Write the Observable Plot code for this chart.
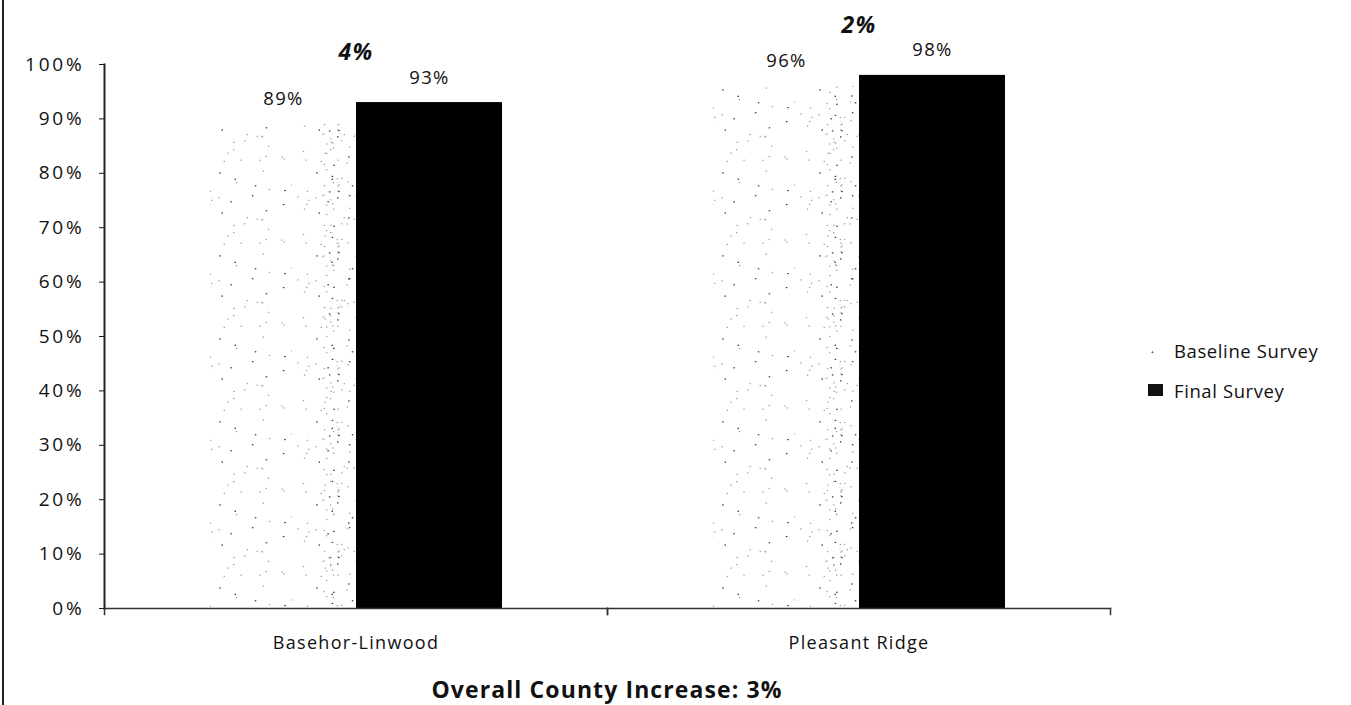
<!DOCTYPE html>
<html>
<head>
<meta charset="utf-8">
<script src="https://cdn.jsdelivr.net/npm/d3@7"></script>
<script src="https://cdn.jsdelivr.net/npm/@observablehq/plot@0.6"></script>
<style>
  html, body { margin: 0; padding: 0; background: #fff; }
  #wrap { position: relative; width: 1351px; height: 705px; overflow: hidden; }
  #wrap .border { position: absolute; left: 2px; top: 0; width: 2px; height: 705px; background: #222; }
  #legend { position: absolute; left: 1148px; top: 330px; font-family: "Open Sans", Lato, sans-serif; font-size: 18.5px; letter-spacing: 0.6px; color: #111; }
  #legend .row { display: flex; align-items: center; height: 40px; }
  #legend .sw { width: 15px; height: 12px; margin-right: 11px; }
  #title { position: absolute; left: 0; width: 1214px; top: 673px; text-align: center; font-family: "Open Sans", Lato, sans-serif; font-weight: bold; font-size: 23px; letter-spacing: 1.1px; color: #111; }
  svg text { letter-spacing: 1.3px; }
  svg g.ytick text { font-size: 19px; letter-spacing: 2.8px; }
</style>
</head>
<body>
<div id="wrap">
  <div class="border"></div>
  <div id="chart"></div>
  <div id="legend"></div>
  <div id="title"></div>
</div>
<script>
const groups = ["Basehor-Linwood", "Pleasant Ridge"];
const series = ["Baseline Survey", "Final Survey"];
const baseline = [0.89, 0.96];
const finalSurvey = [0.93, 0.98];
const increase = ["4%", "2%"];
const yTicks = [0, 0.1, 0.2, 0.3, 0.4, 0.5, 0.6, 0.7, 0.8, 0.9, 1.0];
const overallText = "Overall County Increase: 3%";

const rows = [];
groups.forEach((g, i) => {
  rows.push({group: g, series: series[0], value: baseline[i]});
  rows.push({group: g, series: series[1], value: finalSurvey[i]});
});
const diffs = groups.map((g, i) => ({group: g, top: Math.max(baseline[i], finalSurvey[i]), label: increase[i]}));

const H = 705, MT = 64, MB = 97;
const plotH = H - MT - MB;

const chart = Plot.plot({
  width: 1351,
  height: H,
  marginTop: MT,
  marginBottom: MB,
  marginLeft: 103,
  marginRight: 241,
  style: {fontFamily: "'Open Sans', Lato, sans-serif", fontSize: "18px", color: "#111", background: "#fff"},
  fx: {domain: groups, padding: 0, label: null, tickSize: 0, tickPadding: 28},
  x: {domain: series, paddingInner: 0, paddingOuter: 0.72, axis: null},
  y: {domain: [0, 1], ticks: yTicks, tickFormat: d3.format(".0%"), tickSize: 5, tickPadding: 15, label: null},
  color: {domain: series, range: ["url(#stipple)", "#000"]},
  marks: [
    Plot.barY(rows, {fx: "group", x: "series", y: "value", fill: "series"}),
    Plot.barY(rows.filter(d => d.series === series[0]), {fx: "group", x: "series", y: "value", fill: "url(#stippleDense)", insetLeft: 112}),
    Plot.frame({anchor: "bottom", stroke: "#333", strokeWidth: 1.5}),
    Plot.frame({anchor: "left", stroke: "#222", strokeWidth: 2, facetAnchor: "left"}),
    Plot.frame({anchor: "left", stroke: "#333", strokeWidth: 1.5, insetTop: plotH, insetBottom: -6}),
    Plot.frame({anchor: "right", stroke: "#333", strokeWidth: 1.5, insetTop: plotH, insetBottom: -6}),
    Plot.text(rows, {fx: "group", x: "series", y: "value", text: d => d3.format(".0%")(d.value), dy: -25, fontSize: 18.5}),
    Plot.text(diffs, {fx: "group", y: "top", text: "label", dy: -50, fontSize: 23, fontWeight: "bold", fontStyle: "italic"})
  ]
});

const svg = d3.select(chart.tagName.toLowerCase() === "svg" ? chart : chart.querySelector("svg"));
svg.selectAll("g[aria-label='y-axis tick label']").classed("ytick", true);

// stipple textures (scan-like dot noise) for the baseline bars
const defs = svg.insert("defs", ":first-child");
let seed = 7;
const rnd = () => (seed = (seed * 16807) % 2147483647) / 2147483647;
function addPattern(id, w, h, n) {
  const pat = defs.append("pattern").attr("id", id).attr("patternUnits", "userSpaceOnUse").attr("width", w).attr("height", h);
  for (let k = 0; k < n; k++) {
    const dark = rnd() < 0.3;
    pat.append("rect").attr("x", (rnd() * w).toFixed(1)).attr("y", (rnd() * h).toFixed(1))
      .attr("width", dark ? 1.5 : 1.3).attr("height", 1.2).attr("fill", dark ? "#333" : "#9a9a9a");
  }
}
addPattern("stipple", 97, 83, 36);
addPattern("stippleDense", 34, 61, 26);

document.getElementById("chart").appendChild(chart);

// legend
const legend = d3.select("#legend");
series.forEach((s, i) => {
  const row = legend.append("div").attr("class", "row");
  const sw = row.append("div").attr("class", "sw");
  if (i === 0) sw.style("background", "radial-gradient(circle at 30% 70%, #666 0.8px, transparent 1.2px)").style("background-size", "15px 12px");
  else sw.style("background", "#111");
  row.append("span").text(s);
});
document.getElementById("title").textContent = overallText;
</script>
</body>
</html>
